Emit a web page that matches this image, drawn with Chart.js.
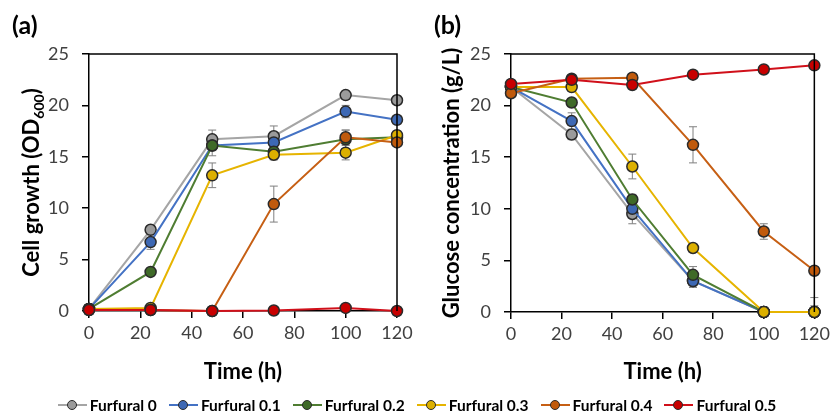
<!DOCTYPE html>
<html>
<head>
<meta charset="utf-8">
<script src="https://cdn.jsdelivr.net/npm/chart.js@4"></script>
<style>
  html, body { margin: 0; padding: 0; background: #fff; }
  body { width: 834px; height: 412px; position: relative; overflow: hidden; font-family: Lato, sans-serif; }
  .wrap { position: absolute; top: 0; height: 412px; width: 417px; }
  #wa { left: 0; }
  #wb { left: 417px; }
  .plabel { position: absolute; top: 9px; font: bold 25px Lato, sans-serif; color: #000; line-height: 30px; }
  #legend { position: absolute; left: 0; width: 834px; top: 395px; height: 20px; display: flex; justify-content: center; align-items: center; }
  .item { display: flex; align-items: center; margin: 0 6px; font: bold 15.5px Lato, sans-serif; color: #000; }
  .sym { position: relative; width: 29px; height: 2px; margin-right: 3px; }
  .dot { position: absolute; left: 9px; top: -4.5px; width: 8px; height: 8px; border-radius: 50%; border: 1.5px solid #2a2a2a; }
</style>
</head>
<body>
<div class="wrap" id="wa"><canvas id="ca"></canvas></div>
<div class="wrap" id="wb"><canvas id="cb"></canvas></div>
<div class="plabel" style="left:12px">(a)</div>
<div class="plabel" style="left:434px">(b)</div>
<div id="legend"></div>
<script>
// ---- data ----
const times = [0, 24, 48, 72, 100, 120];
const seriesNames = ['Furfural 0', 'Furfural 0.1', 'Furfural 0.2', 'Furfural 0.3', 'Furfural 0.4', 'Furfural 0.5'];
const lineColors = ['#a5a5a5', '#4472c4', '#4f7d32', '#e6b400', '#c65f14', '#d0101a'];
const pointColors = ['#9b9b9b', '#3d68b4', '#3f6a28', '#dcb000', '#c05a0c', '#c80000'];
const xTicks = [0, 20, 40, 60, 80, 100, 120];
const yTicks = [0, 5, 10, 15, 20, 25];

// (a) cell growth OD600
const growth0  = [0.2, 7.9, 16.7, 17.0, 21.0, 20.5];
const growth01 = [0.2, 6.7, 16.1, 16.4, 19.4, 18.6];
const growth02 = [0.2, 3.8, 16.1, 15.5, 16.7, 16.9];
const growth03 = [0.2, 0.3, 13.2, 15.2, 15.4, 17.1];
const growth04 = [0.1, 0.1, 0.0, 10.4, 16.9, 16.4];
const growth05 = [0.1, 0.1, 0.0, 0.05, 0.3, 0.0];
const growthErr0  = [0.1, 0.3, 0.9, 1.0, 0.4, 0.4];
const growthErr01 = [0.1, 0.7, 0.5, 0.6, 0.6, 0.3];
const growthErr02 = [0.1, 0.3, 1.0, 0.5, 0.9, 0.3];
const growthErr03 = [0.1, 0.1, 1.2, 0.5, 0.7, 0.4];
const growthErr04 = [0.0, 0.0, 0.0, 1.75, 0.7, 0.3];
const growthErr05 = [0.0, 0.0, 0.0, 0.0, 0.1, 0.0];

// (b) glucose concentration g/L
const glucose0  = [21.8, 17.2, 9.5, 3.0, 0.0, 0.0];
const glucose01 = [21.8, 18.5, 10.0, 3.0, 0.0, 0.0];
const glucose02 = [21.8, 20.3, 10.9, 3.6, 0.0, 0.0];
const glucose03 = [21.8, 21.8, 14.1, 6.2, 0.0, 0.0];
const glucose04 = [21.2, 22.6, 22.7, 16.2, 7.8, 4.0];
const glucose05 = [22.1, 22.5, 22.0, 23.0, 23.5, 23.9];
const glucoseErr0  = [0.2, 0.5, 0.95, 0.6, 0.5, 1.4];
const glucoseErr01 = [0.2, 0.8, 0.8, 0.6, 0.4, 0.6];
const glucoseErr02 = [0.2, 0.3, 0.5, 0.8, 0.3, 0.4];
const glucoseErr03 = [0.2, 0.2, 1.2, 0.3, 0.3, 0.3];
const glucoseErr04 = [0.2, 0.2, 0.2, 1.75, 0.75, 0.3];
const glucoseErr05 = [0.2, 0.2, 0.2, 0.2, 0.2, 0.2];

const growthSets = [growth0, growth01, growth02, growth03, growth04, growth05];
const growthErrs = [growthErr0, growthErr01, growthErr02, growthErr03, growthErr04, growthErr05];
const glucoseSets = [glucose0, glucose01, glucose02, glucose03, glucose04, glucose05];
const glucoseErrs = [glucoseErr0, glucoseErr01, glucoseErr02, glucoseErr03, glucoseErr04, glucoseErr05];

const FONT = 'Lato, sans-serif';
const TICK_COLOR = '#404040';

function makeDatasets(sets, errs) {
  return sets.map((vals, i) => ({
    label: seriesNames[i],
    data: vals.map((v, j) => ({ x: times[j], y: v })),
    errors: errs[i],
    borderColor: lineColors[i],
    backgroundColor: pointColors[i],
    pointBackgroundColor: pointColors[i],
    pointBorderColor: '#2a2a2a',
    pointBorderWidth: 1.5,
    pointRadius: 5.5,
    borderWidth: 2,
    tension: 0,
    clip: false,
    order: sets.length - i
  }));
}

const errorBarPlugin = {
  id: 'errorBars',
  beforeDatasetsDraw(chart) {
    const ctx = chart.ctx;
    const xs = chart.scales.x, ys = chart.scales.y;
    ctx.save();
    ctx.strokeStyle = '#7f7f7f';
    ctx.lineWidth = 1;
    chart.data.datasets.forEach(ds => {
      ds.data.forEach((p, j) => {
        const e = ds.errors[j];
        if (!e) return;
        const x = xs.getPixelForValue(p.x);
        const y1 = ys.getPixelForValue(p.y + e);
        const y2 = ys.getPixelForValue(Math.max(0, p.y - e));
        ctx.beginPath();
        ctx.moveTo(x, y1); ctx.lineTo(x, y2);
        ctx.moveTo(x - 4, y1); ctx.lineTo(x + 4, y1);
        if (p.y - e > 0) { ctx.moveTo(x - 4, y2); ctx.lineTo(x + 4, y2); }
        ctx.stroke();
      });
    });
    ctx.restore();
  }
};

const framePlugin = {
  id: 'frame',
  afterDraw(chart, args, opts) {
    const ctx = chart.ctx, a = chart.chartArea;
    ctx.save();
    ctx.strokeStyle = '#000';
    ctx.lineWidth = 1.5;
    ctx.beginPath();
    ctx.moveTo(a.left, a.top); ctx.lineTo(a.right, a.top); ctx.lineTo(a.right, a.bottom);
    ctx.stroke();
    // x title
    ctx.fillStyle = '#000';
    ctx.font = 'bold 22px ' + FONT;
    ctx.textAlign = 'center';
    ctx.textBaseline = 'middle';
    ctx.fillText('Time (h)', (a.left + a.right) / 2, 372);
    // y title (rotated, optional subscript)
    ctx.translate(a.left - opts.yTitleOffset, (a.top + a.bottom) / 2);
    ctx.rotate(-Math.PI / 2);
    const main = opts.yTitle, sub = opts.ySub || '', tail = opts.yTail || '';
    ctx.font = 'bold 22px ' + FONT;
    const wMain = ctx.measureText(main).width;
    const wTail = ctx.measureText(tail).width;
    ctx.font = 'bold 14px ' + FONT;
    const wSub = ctx.measureText(sub).width;
    let x0 = -(wMain + wSub + wTail) / 2;
    ctx.textAlign = 'left';
    ctx.textBaseline = 'alphabetic';
    ctx.font = 'bold 22px ' + FONT;
    ctx.fillText(main, x0, 8);
    if (sub) {
      ctx.font = 'bold 14px ' + FONT;
      ctx.fillText(sub, x0 + wMain, 13);
      ctx.font = 'bold 22px ' + FONT;
      ctx.fillText(tail, x0 + wMain + wSub, 8);
    }
    ctx.restore();
  }
};

function makeChart(id, sets, errs, yAxisWidth, padRight, xAxisHeight, titleOpts) {
  return new Chart(document.getElementById(id), {
    type: 'line',
    data: { datasets: makeDatasets(sets, errs) },
    options: {
      responsive: true,
      maintainAspectRatio: false,
      animation: false,
      layout: { padding: { top: 54, right: padRight, bottom: 0, left: 0 } },
      plugins: { legend: { display: false }, tooltip: { enabled: false }, frame: titleOpts },
      scales: {
        x: {
          type: 'linear', min: 0, max: 120,
          afterBuildTicks(s) { s.ticks = xTicks.map(v => ({ value: v })); },
          afterFit(s) { s.height = xAxisHeight; },
          grid: { display: true, drawOnChartArea: false, drawTicks: true, tickLength: 7, color: '#000', lineWidth: 1.5 },
          border: { display: true, color: '#000', width: 1.5 },
          ticks: { color: TICK_COLOR, font: { family: FONT, size: 18 }, padding: 4, maxRotation: 0 }
        },
        y: {
          type: 'linear', min: 0, max: 25,
          afterBuildTicks(s) { s.ticks = yTicks.map(v => ({ value: v })); },
          afterFit(s) { s.width = yAxisWidth; },
          grid: { display: true, drawOnChartArea: false, drawTicks: true, tickLength: 7, color: '#000', lineWidth: 1.5 },
          border: { display: true, color: '#000', width: 1.5 },
          ticks: { color: TICK_COLOR, font: { family: FONT, size: 18 }, padding: 13 }
        }
      }
    },
    plugins: [errorBarPlugin, framePlugin]
  });
}

makeChart('ca', growthSets, growthErrs, 89, 20, 101, { yTitle: 'Cell growth (OD', ySub: '600', yTail: ')', yTitleOffset: 58 });
makeChart('cb', glucoseSets, glucoseErrs, 94, 16, 100, { yTitle: 'Glucose concentration (g/L)', yTitleOffset: 60 });

// ---- HTML legend ----
const leg = document.getElementById('legend');
seriesNames.forEach((name, i) => {
  const it = document.createElement('div'); it.className = 'item';
  const sym = document.createElement('span'); sym.className = 'sym'; sym.style.background = lineColors[i];
  const dot = document.createElement('span'); dot.className = 'dot'; dot.style.background = pointColors[i];
  sym.appendChild(dot);
  const t = document.createElement('span'); t.textContent = name;
  it.appendChild(sym); it.appendChild(t);
  leg.appendChild(it);
});
</script>
</body>
</html>
